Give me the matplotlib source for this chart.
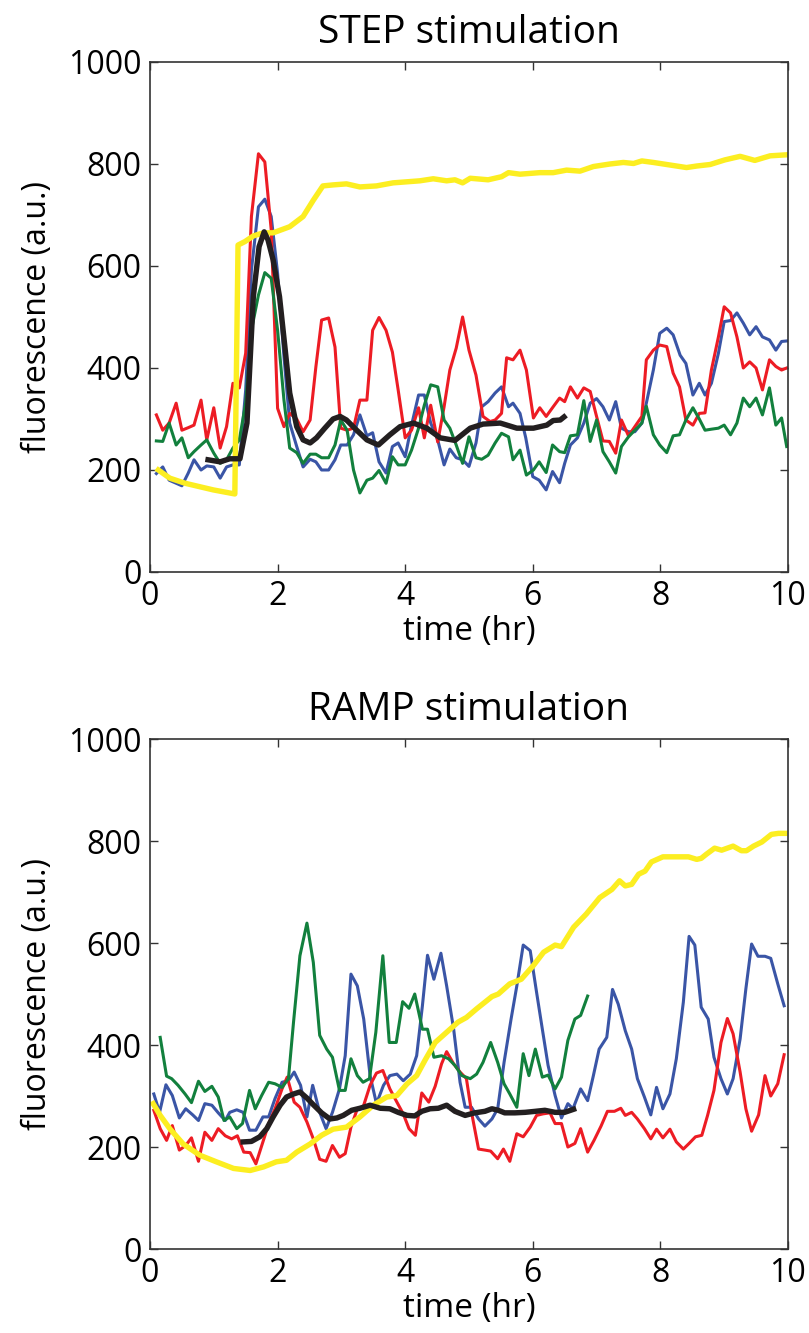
import matplotlib
matplotlib.use("Agg")
from matplotlib import pyplot as plt
import numpy as np

# ---- STEP stimulation, (time hr, fluorescence) pairs
step_blue = [(0.10,193),(0.20,206),(0.30,180),(0.41,174),(0.50,169),(0.60,194),(0.69,220),(0.80,200),
             (0.89,208),(1.00,206),(1.10,184),(1.20,206),(1.30,210),(1.40,210),(1.50,357),(1.59,592),
             (1.70,716),(1.80,731),(1.90,697),(2.00,586),(2.10,422),(2.19,292),(2.30,246),(2.40,206),
             (2.51,221),(2.60,216),(2.69,200),(2.80,200),(2.90,220),(2.99,249),(3.09,249),(3.19,269),
             (3.29,308),(3.40,267),(3.49,273),(3.59,216),(3.70,194),(3.80,246),(3.89,253),(4.00,226),
             (4.10,288),(4.21,347),(4.30,347),(4.40,292),(4.51,259),(4.61,210),(4.70,241),(4.80,224),
             (4.90,220),(5.00,207),(5.11,253),(5.20,324),(5.30,334),(5.41,351),(5.51,363),(5.62,324),
             (5.69,331),(5.80,311),(5.89,263),(6.00,187),(6.10,180),(6.21,161),(6.31,197),(6.42,175),
             (6.50,213),(6.59,249),(6.70,263),(6.80,292),(6.90,331),(7.00,340),(7.10,324),(7.20,298),
             (7.30,334),(7.39,282),(7.50,275),(7.60,275),(7.71,292),(7.78,331),(7.89,396),(7.99,468),
             (8.10,478),(8.20,465),(8.31,425),(8.40,409),(8.51,347),(8.61,370),(8.70,347),(8.80,370),
             (8.91,429),(9.00,491),(9.10,493),(9.20,508),(9.30,488),(9.40,465),(9.50,481),(9.60,461),
             (9.71,455),(9.81,435),(9.90,452),(9.98,453)]
step_red = [(0.10,308),(0.20,278),(0.30,292),(0.41,331),(0.50,278),(0.60,283),(0.69,288),(0.80,337),
            (0.89,259),(1.00,322),(1.10,243),(1.20,285),(1.30,370),(1.40,361),(1.50,429),(1.59,697),
            (1.70,820),(1.80,804),(1.90,671),(2.00,321),(2.10,285),(2.19,311),(2.30,300),(2.40,275),
            (2.51,298),(2.60,402),(2.69,494),(2.80,498),(2.90,441),(2.99,282),(3.09,278),(3.19,282),
            (3.29,337),(3.40,337),(3.49,474),(3.59,499),(3.70,474),(3.80,431),(3.89,357),(4.00,263),
            (4.10,278),(4.21,322),(4.30,263),(4.40,327),(4.51,255),(4.61,324),(4.70,396),(4.80,439),
            (4.90,500),(5.00,435),(5.11,386),(5.22,305),(5.33,295),(5.41,298),(5.51,311),(5.59,420),
            (5.69,416),(5.80,435),(5.90,396),(6.01,302),(6.11,322),(6.21,305),(6.32,324),(6.42,341),
            (6.50,334),(6.59,363),(6.70,341),(6.80,361),(6.90,354),(7.00,305),(7.10,257),(7.20,256),
            (7.30,233),(7.39,298),(7.50,267),(7.60,285),(7.71,305),(7.78,416),(7.89,435),(7.99,445),
            (8.10,442),(8.20,390),(8.30,363),(8.40,298),(8.51,288),(8.61,311),(8.70,312),(8.80,396),
            (8.91,461),(9.00,520),(9.10,508),(9.20,461),(9.30,400),(9.40,412),(9.50,400),(9.60,357),
            (9.71,416),(9.81,403),(9.90,396),(9.98,400)]
step_green = [(0.10,257),(0.20,256),(0.30,292),(0.41,249),(0.50,263),(0.60,224),(0.69,236),(0.80,249),
              (0.89,259),(1.00,233),(1.10,213),(1.20,220),(1.30,243),(1.40,259),(1.50,331),(1.59,474),
              (1.70,543),(1.80,587),(1.90,576),(2.00,474),(2.10,337),(2.19,243),(2.30,234),(2.40,213),
              (2.51,231),(2.60,231),(2.69,224),(2.80,224),(2.90,249),(2.99,298),(3.09,278),(3.19,200),
              (3.29,155),(3.40,180),(3.49,184),(3.59,199),(3.70,174),(3.80,226),(3.89,210),(4.00,210),
              (4.10,239),(4.21,282),(4.30,327),(4.40,367),(4.51,363),(4.61,298),(4.70,282),(4.80,249),
              (4.90,213),(5.00,265),(5.11,224),(5.20,221),(5.30,229),(5.41,253),(5.51,272),(5.62,265),
              (5.69,220),(5.80,239),(5.90,190),(6.01,200),(6.10,216),(6.21,195),(6.31,249),(6.42,236),
              (6.50,234),(6.59,267),(6.70,269),(6.80,336),(6.90,256),(7.00,298),(7.10,236),(7.20,216),
              (7.30,194),(7.39,246),(7.50,265),(7.60,278),(7.71,292),(7.78,325),(7.89,269),(7.99,249),
              (8.10,234),(8.20,267),(8.30,269),(8.40,298),(8.51,322),(8.61,300),(8.70,278),(8.80,280),
              (8.91,282),(9.00,288),(9.10,269),(9.20,292),(9.30,341),(9.40,324),(9.50,341),(9.60,308),
              (9.71,361),(9.81,288),(9.90,302),(9.98,246)]
step_yellow = [(0.13,200),(0.31,184),(0.55,174),(0.99,161),(1.33,153),(1.38,641),(1.49,648),(1.62,659),
               (1.78,665),(1.93,665),(2.19,677),(2.40,697),(2.56,729),(2.71,757),(2.87,759),(3.08,761),
               (3.29,755),(3.55,757),(3.81,763),(4.02,765),(4.23,767),(4.44,771),(4.65,767),(4.78,769),
               (4.90,763),(5.02,772),(5.30,769),(5.51,775),(5.62,783),(5.80,780),(6.11,783),(6.32,783),
               (6.53,788),(6.74,786),(6.95,795),(7.21,800),(7.42,803),(7.58,801),(7.71,806),(7.89,803),
               (8.15,798),(8.41,793),(8.57,796),(8.78,799),(9.01,808),(9.25,815),(9.48,807),(9.72,816),
               (9.98,818)]
step_black = [(0.91,220),(1.10,216),(1.25,222),(1.41,222),(1.52,292),(1.62,540),(1.71,638),(1.79,667),
              (1.85,651),(1.93,612),(2.03,540),(2.12,435),(2.19,351),(2.30,285),(2.40,259),(2.51,253),
              (2.61,263),(2.74,282),(2.87,300),(2.98,305),(3.08,298),(3.24,278),(3.40,259),(3.58,249),
              (3.76,269),(3.92,285),(4.13,292),(4.34,282),(4.55,263),(4.78,258),(5.02,282),(5.22,290),
              (5.49,292),(5.75,282),(6.01,282),(6.22,288),(6.32,297),(6.43,298),(6.49,304)]

# ---- RAMP stimulation
ramp_blue = [(0.06,304),(0.15,268),(0.25,322),(0.35,301),(0.46,257),(0.56,275),(0.67,263),(0.76,252),
             (0.86,285),(0.97,282),(1.07,267),(1.18,252),(1.25,268),(1.36,273),(1.46,268),(1.56,233),
             (1.66,233),(1.77,259),(1.86,259),(1.96,295),(2.07,327),(2.17,330),(2.26,347),(2.36,321),
             (2.46,259),(2.55,321),(2.66,268),(2.76,236),(2.86,268),(2.97,314),(3.06,379),(3.15,539),
             (3.25,516),(3.35,451),(3.45,340),(3.55,285),(3.66,321),(3.76,340),(3.87,343),(3.97,330),
             (4.08,343),(4.18,379),(4.27,477),(4.35,576),(4.45,529),(4.56,580),(4.65,516),(4.76,431),
             (4.86,327),(4.94,278),(5.04,278),(5.15,255),(5.25,241),(5.36,255),(5.45,275),(5.55,366),
             (5.66,451),(5.75,516),(5.85,596),(5.96,585),(6.06,503),(6.15,431),(6.24,360),(6.35,301),
             (6.45,257),(6.55,285),(6.63,275),(6.75,314),(6.86,291),(6.95,340),(7.04,392),(7.16,415),
             (7.25,509),(7.34,480),(7.45,428),(7.55,392),(7.64,334),(7.75,298),(7.85,263),(7.94,317),
             (8.04,275),(8.15,304),(8.25,373),(8.36,484),(8.45,613),(8.54,596),(8.64,474),(8.75,451),
             (8.84,376),(8.95,334),(9.05,304),(9.14,334),(9.25,412),(9.34,510),(9.43,598),(9.53,574),
             (9.64,574),(9.73,570),(9.84,520),(9.94,477)]
ramp_red = [(0.06,272),(0.16,236),(0.26,213),(0.35,242),(0.46,194),(0.56,203),(0.65,218),(0.76,172),
            (0.86,229),(0.97,213),(1.07,236),(1.18,222),(1.28,216),(1.37,222),(1.47,190),(1.57,189),
            (1.66,167),(1.77,210),(1.87,249),(1.96,275),(2.07,314),(2.15,337),(2.26,288),(2.35,278),
            (2.46,249),(2.56,216),(2.66,176),(2.76,172),(2.86,203),(2.97,180),(3.06,187),(3.15,239),
            (3.25,275),(3.34,278),(3.45,321),(3.55,345),(3.65,350),(3.76,314),(3.87,288),(3.97,265),
            (4.06,236),(4.16,223),(4.26,306),(4.37,288),(4.47,319),(4.57,363),(4.65,387),(4.76,363),
            (4.86,347),(4.96,334),(5.04,268),(5.15,196),(5.25,194),(5.34,192),(5.45,177),(5.54,196),
            (5.64,172),(5.75,226),(5.85,220),(5.96,239),(6.06,262),(6.16,265),(6.27,267),(6.35,246),
            (6.45,246),(6.55,200),(6.66,207),(6.75,236),(6.86,190),(6.96,213),(7.07,241),(7.17,270),
            (7.28,270),(7.38,276),(7.45,262),(7.55,268),(7.64,255),(7.75,236),(7.85,216),(7.94,235),
            (8.04,218),(8.15,235),(8.25,210),(8.36,196),(8.45,207),(8.55,220),(8.65,223),(8.74,262),
            (8.84,311),(8.95,405),(9.05,452),(9.14,422),(9.25,347),(9.34,275),(9.43,231),(9.54,263),
            (9.64,340),(9.73,300),(9.84,324),(9.94,381)]
ramp_green = [(0.16,415),(0.26,339),(0.34,334),(0.44,321),(0.55,304),(0.65,287),(0.76,329),(0.86,309),
              (0.97,319),(1.07,298),(1.16,252),(1.25,259),(1.36,236),(1.45,246),(1.56,311),(1.65,275),
              (1.75,301),(1.86,327),(1.96,324),(2.07,317),(2.17,334),(2.25,445),(2.35,575),(2.46,639),
              (2.56,562),(2.66,419),(2.77,392),(2.86,376),(2.97,311),(3.06,311),(3.15,373),(3.25,340),
              (3.34,327),(3.44,334),(3.54,425),(3.65,575),(3.75,405),(3.86,405),(3.96,485),(4.06,472),
              (4.15,500),(4.27,431),(4.35,431),(4.45,376),(4.57,379),(4.68,373),(4.78,360),(4.89,340),
              (5.02,334),(5.12,343),(5.22,366),(5.34,405),(5.45,366),(5.55,324),(5.64,304),(5.75,278),
              (5.85,383),(5.94,340),(6.04,392),(6.15,337),(6.24,341),(6.35,314),(6.45,337),(6.55,409),
              (6.66,451),(6.75,458),(6.86,496)]
ramp_yellow = [(0.05,285),(0.16,262),(0.31,236),(0.52,206),(0.78,184),(1.04,171),(1.31,158),(1.57,154),
               (1.78,161),(1.98,171),(2.14,174),(2.30,190),(2.51,206),(2.69,223),(2.87,235),(3.08,239),
               (3.29,259),(3.50,282),(3.71,298),(3.87,301),(4.03,324),(4.18,340),(4.31,370),(4.47,405),
               (4.65,425),(4.83,445),(4.96,454),(5.12,471),(5.36,495),(5.46,500),(5.64,520),(5.82,529),
               (6.01,556),(6.17,582),(6.35,596),(6.45,593),(6.64,631),(6.84,657),(7.05,689),(7.24,705),
               (7.36,722),(7.45,712),(7.55,715),(7.66,735),(7.76,741),(7.86,759),(8.04,769),(8.25,769),
               (8.44,769),(8.57,764),(8.64,766),(8.72,774),(8.85,786),(8.96,782),(9.14,790),(9.27,781),
               (9.35,781),(9.46,790),(9.59,798),(9.74,813),(9.85,815),(9.95,815)]
ramp_black = [(1.46,210),(1.59,211),(1.72,220),(1.83,236),(1.93,259),(2.04,282),(2.14,298),(2.25,304),
              (2.35,308),(2.46,296),(2.56,283),(2.69,267),(2.82,255),(2.93,257),(3.03,262),(3.16,272),
              (3.29,276),(3.45,282),(3.61,276),(3.76,275),(3.89,268),(4.03,262),(4.15,261),(4.26,270),
              (4.39,275),(4.52,276),(4.65,282),(4.78,270),(4.94,262),(5.09,267),(5.25,270),(5.36,275),
              (5.46,272),(5.56,267),(5.72,267),(5.88,268),(6.04,270),(6.19,272),(6.35,268),(6.50,268),
              (6.64,274)]

xticks = [0, 2, 4, 6, 8, 10]
yticks = [0, 200, 400, 600, 800, 1000]

BLUE = "#3a55a6"
RED = "#ed1c24"
GREEN = "#12803d"
YELLOW = "#fcee21"
BLACK = "#231f20"

plt.rcParams["font.family"] = ["Open Sans", "DejaVu Sans"]

fig = plt.figure(figsize=(8.09, 13.33), dpi=100)
ax_step = fig.add_axes([0.1854, 0.5709, 0.7886, 0.3826])
ax_ramp = fig.add_axes([0.1854, 0.0630, 0.7886, 0.3826])

panels = [
    (ax_step, "STEP stimulation", [step_blue, step_red, step_green], step_yellow, step_black),
    (ax_ramp, "RAMP stimulation", [ramp_blue, ramp_red, ramp_green], ramp_yellow, ramp_black),
]

for ax, title, thin, yellow, black in panels:
    for series, color in zip(thin, [BLUE, RED, GREEN]):
        arr = np.array(series)
        ax.plot(arr[:, 0], arr[:, 1], color=color, lw=2.2)
    arr = np.array(yellow)
    ax.plot(arr[:, 0], arr[:, 1], color=YELLOW, lw=3.9)
    arr = np.array(black)
    ax.plot(arr[:, 0], arr[:, 1], color=BLACK, lw=3.9)

    ax.set_xlim(0, 10)
    ax.set_ylim(0, 1000)
    ax.set_xticks(xticks)
    ax.set_yticks(yticks)
    ax.tick_params(direction="in", top=True, right=True, length=6, width=1,
                   labelsize=23, colors="#333333", labelcolor="black", pad=6)
    for s in ax.spines.values():
        s.set_linewidth(1.2)
        s.set_color("#333333")
    ax.set_title(title, fontsize=28, pad=14)
    ax.set_xlabel("time (hr)", fontsize=24, labelpad=1)
    ax.set_ylabel("fluorescence (a.u.)", fontsize=23, labelpad=10)

fig.savefig("out.png", dpi=100)
